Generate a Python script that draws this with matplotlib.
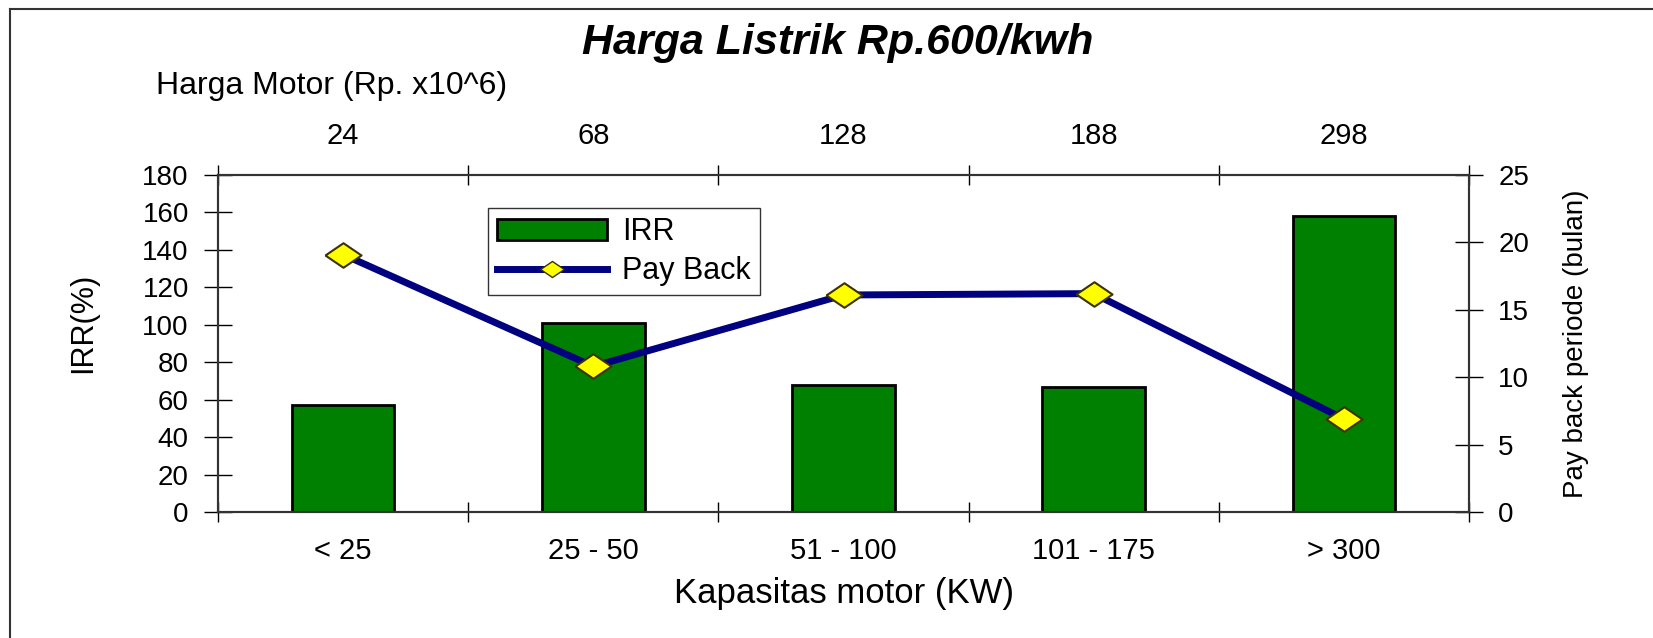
import numpy as np
import matplotlib
matplotlib.use("Agg")
from matplotlib import pyplot as plt
from matplotlib.lines import Line2D
from matplotlib.patches import Patch

plt.rcParams['font.family'] = ['Liberation Sans', 'DejaVu Sans']

categories = ['< 25', '25 - 50', '51 - 100', '101 - 175', '> 300']
motor_price = ['24', '68', '128', '188', '298']
irr = [57, 101, 68, 67, 158]
payback = [19.1, 10.8, 16.1, 16.2, 6.9]

W, H = 1653, 638
fig = plt.figure(figsize=(W / 100, H / 100), dpi=100)

# outer chart border (top and left visible)
fig.add_artist(Line2D([10 / W, 10 / W], [0, 1 - 9 / H], color='#333333', lw=1.5))
fig.add_artist(Line2D([10 / W, 1], [1 - 9 / H, 1 - 9 / H], color='#333333', lw=1.5))

x0, x1, y0, y1 = 218, 1469, 175, 512
ax = fig.add_axes([x0 / W, 1 - y1 / H, (x1 - x0) / W, (y1 - y0) / H])
x = np.arange(len(categories))

ax.bar(x, irr, width=0.41, color='#008000', edgecolor='black', linewidth=2, zorder=2)
ax.set_xlim(-0.5, len(categories) - 0.5)
ax.set_ylim(0, 180)
ax.set_yticks(np.arange(0, 181, 20))
ax.set_xticks(x, categories)
ax.set_xticks(np.arange(-0.5, len(categories)), minor=True)
ax.tick_params(axis='x', which='major', length=0, pad=18, labelsize=21)
ax.tick_params(axis='x', which='minor', direction='inout', length=14, width=1,
               top=True, bottom=True)
ax.tick_params(axis='y', direction='inout', length=20, width=1, pad=11, labelsize=20)
ax.set_xlabel('Kapasitas motor (KW)', fontsize=25, labelpad=9)
ax.set_ylabel('IRR(%)', fontsize=22)
ax.yaxis.set_label_coords(-0.096, 0.56)
for s in ax.spines.values():
    s.set_linewidth(1.5)
    s.set_color('#333333')

ax2 = ax.twinx()
ax2.plot(x, payback, color='#000080', lw=5, zorder=3)
diamond = [(-1, 0), (0, 0.68), (1, 0), (0, -0.68), (-1, 0)]
ax2.plot(x, payback, linestyle='none', marker=diamond, markersize=26,
         markerfacecolor='#ffff00', markeredgecolor='#3d3300', markeredgewidth=1.5,
         zorder=4)
ax2.set_ylim(0, 25)
ax2.set_yticks(np.arange(0, 26, 5))
ax2.tick_params(axis='y', direction='inout', length=20, width=1, pad=11, labelsize=20)
ax2.set_ylabel('Pay back periode (bulan)', fontsize=20, labelpad=24)
for s in ax2.spines.values():
    s.set_linewidth(1.5)
    s.set_color('#333333')

top = ax.secondary_xaxis('top')
top.set_xticks(x, motor_price)
top.tick_params(length=0, pad=18, labelsize=21)
top.spines['top'].set_visible(False)

fig.text(156 / W, 1 - 86 / H, 'Harga Motor (Rp. x10^6)', fontsize=23,
         ha='left', va='center')
fig.text(838 / W, 1 - 43 / H, 'Harga Listrik Rp.600/kwh', fontsize=31,
         fontweight='bold', fontstyle='italic', ha='center', va='center')

handles = [Patch(facecolor='#008000', edgecolor='black', linewidth=2),
           Line2D([], [], color='#000080', lw=5, marker=diamond, markersize=17,
                  markerfacecolor='#ffff00', markeredgecolor='#3d3300')]
leg = ax2.legend(handles, ['IRR', 'Pay Back'], loc='upper left',
                 bbox_to_anchor=((488 - x0) / (x1 - x0), 1 - (208 - y0) / (y1 - y0)),
                 borderaxespad=0,
                 fontsize=22, frameon=True, fancybox=False, edgecolor='black',
                 handlelength=3.6, handleheight=0.7, handletextpad=0.5,
                 borderpad=0.3, labelspacing=0.3)
leg.get_frame().set_linewidth(1)

fig.savefig('out.png', dpi=100, facecolor='white')
